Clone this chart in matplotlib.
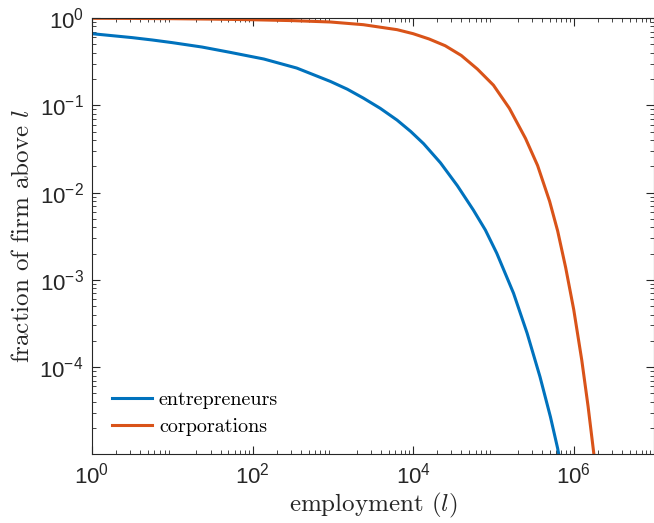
import numpy as np
import matplotlib
matplotlib.use("Agg")
import matplotlib.pyplot as plt
from matplotlib.ticker import LogLocator, NullFormatter

plt.rcParams['font.family'] = ['Liberation Sans', 'DejaVu Sans']
plt.rcParams['mathtext.fontset'] = 'cm'
plt.rcParams['axes.formatter.use_mathtext'] = True

# employment values and fraction of firms above l
ent_l = [1, 3.16, 5.62, 10, 23.4, 52.5, 138, 355, 933, 1510, 2400, 3890,
         6310, 9330, 13500, 21900, 35500, 56200, 79400, 110000, 178000,
         263000, 380000, 513000, 631000, 676000]
ent_f = [0.661, 0.596, 0.560, 0.522, 0.465, 0.404, 0.339, 0.267, 0.1875,
         0.153, 0.1208, 0.0923, 0.0676, 0.0501, 0.0363, 0.0219, 0.0120,
         0.00631, 0.00372, 0.00202, 7.02e-4, 2.44e-4, 7.76e-5, 2.69e-5,
         1.17e-5, 8.32e-6]

corp_l = [1, 3.16, 10, 31.6, 100, 316, 933, 2400, 6310, 10000, 15800, 25100,
          39800, 63100, 100000, 158000, 251000, 355000, 501000, 631000,
          794000, 1000000, 1260000, 1510000, 1780000, 1860000]
corp_f = [0.993, 0.989, 0.982, 0.971, 0.955, 0.933, 0.900, 0.838, 0.735,
          0.661, 0.575, 0.481, 0.372, 0.260, 0.170, 0.0923, 0.0417, 0.0204,
          0.00794, 0.00363, 0.00138, 4.57e-4, 1.20e-4, 3.55e-5, 1.02e-5,
          7.08e-6]

series_names = ['entrepreneurs', 'corporations']
colors = [(0.0, 0.447, 0.741), (0.85, 0.325, 0.098)]

fig = plt.figure(figsize=(6.54, 5.23), dpi=100)
ax = fig.add_axes([92/654, 1 - 454/523, (654 - 92)/654, (454 - 18)/523])

ax.loglog(ent_l, ent_f, color=colors[0], lw=2.2, label=series_names[0],
          solid_joinstyle='round')
ax.loglog(corp_l, corp_f, color=colors[1], lw=2.2, label=series_names[1],
          solid_joinstyle='round')

ax.set_xlim(1, 1e7)
ax.set_ylim(1.01e-5, 1)
ax.set_xticks([1, 1e2, 1e4, 1e6])
ax.set_yticks([1e-4, 1e-3, 1e-2, 1e-1, 1])
ax.xaxis.set_minor_locator(LogLocator(base=10, subs=np.arange(2, 10), numticks=20))
ax.yaxis.set_minor_locator(LogLocator(base=10, subs=np.arange(2, 10), numticks=20))
ax.xaxis.set_minor_formatter(NullFormatter())
ax.yaxis.set_minor_formatter(NullFormatter())

gray = (0.15, 0.15, 0.15)
for s in ax.spines.values():
    s.set_color(gray)
    s.set_linewidth(0.8)
ax.tick_params(which='both', direction='in', top=True, right=True, colors=gray)
ax.tick_params(which='major', length=6, labelsize=16, pad=6)
ax.tick_params(which='minor', length=3)

ax.set_xlabel('employment ($l$)', fontfamily='cmr10', fontsize=18, color=gray, labelpad=2)
ax.set_ylabel('fraction of firm above $l$', fontfamily='cmr10', fontsize=18, color=gray, labelpad=4)

leg = ax.legend(loc='lower left', frameon=False, prop={'family': 'cmr10', 'size': 14.5},
                handlelength=2.0, handletextpad=0.35, borderaxespad=0.6,
                labelspacing=0.45, bbox_to_anchor=(-0.001, -0.006))

fig.savefig('out.png', dpi=100)
